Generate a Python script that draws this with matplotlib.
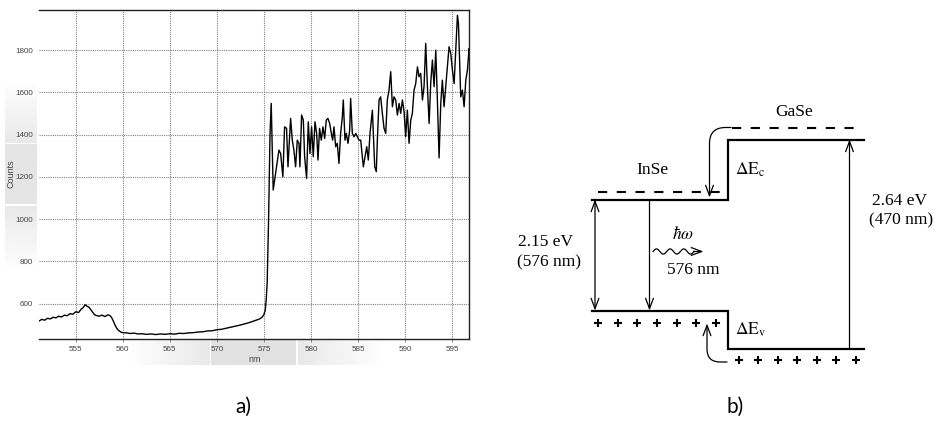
import numpy as np
import matplotlib
matplotlib.use("Agg")
import matplotlib.pyplot as plt
from matplotlib.patches import FancyArrowPatch

plt.rcParams['mathtext.fontset'] = 'stix'

# ---------------- panel a: spectrum ----------------
wavelength_nm = [
    551.1, 551.4, 551.7, 552.0, 552.3, 552.6, 552.9, 553.2, 553.5, 553.8,
    554.1, 554.4, 554.7, 555.0, 555.3, 555.6, 555.8, 556.0, 556.2, 556.4,
    556.6, 556.8, 557.0, 557.2, 557.5, 557.8, 558.1, 558.4, 558.6, 558.8,
    559.0, 559.2, 559.4, 559.6, 559.8, 560.0, 560.4, 560.8, 561.2, 561.6,
    562.0, 562.5, 563.0, 563.5, 564.0, 564.5, 565.0, 565.5, 566.0, 566.5,
    567.0, 567.5, 568.0, 568.5, 569.0, 569.5, 570.0, 570.5, 571.0, 571.5,
    572.0, 572.5, 573.0, 573.4, 573.8, 574.2, 574.5, 574.8, 575.0, 575.15,
    575.25, 575.35, 575.5, 575.65,
    575.78, 575.99, 576.24, 576.60, 576.78, 577.02, 577.20, 577.41, 577.56, 577.84,
    578.02, 578.19, 578.37, 578.55, 578.73, 578.83, 579.01, 579.19, 579.33, 579.54,
    579.72, 579.90, 580.07, 580.25, 580.43, 580.61, 580.75, 580.92, 581.10, 581.28,
    581.46, 581.63, 581.81, 581.99, 582.17, 582.31, 582.45, 582.63, 582.80, 582.98,
    583.16, 583.34, 583.44, 583.62, 583.76, 583.94, 584.12, 584.22, 584.40, 584.58,
    584.76, 584.93, 585.11, 585.29, 585.46, 585.57, 585.75, 585.93, 586.10, 586.28,
    586.53, 586.78, 586.95, 587.06, 587.24, 587.41, 587.59, 587.77, 587.95, 588.12,
    588.30, 588.48, 588.66, 588.83, 589.01, 589.19, 589.37, 589.54, 589.72, 589.90,
    590.07, 590.25, 590.43, 590.61, 590.78, 590.96, 591.14, 591.32, 591.49, 591.67,
    591.85, 592.02, 592.20, 592.38, 592.56, 592.73, 592.91, 593.09, 593.27, 593.44,
    593.62, 593.80, 593.97, 594.15, 594.33, 594.51, 594.68, 594.86, 595.04, 595.22,
    595.39, 595.57, 595.68, 595.82, 595.92, 596.10, 596.28, 596.46, 596.63, 596.81,
    596.88,
]
counts = [
    518, 526, 522, 531, 528, 536, 533, 541, 537, 546,
    543, 553, 550, 562, 558, 575, 582, 595, 588, 584,
    572, 560, 548, 544, 541, 546, 539, 547, 545, 536,
    518, 497, 481, 472, 466, 463, 462, 459, 461, 457,
    458, 455, 457, 454, 457, 455, 458, 456, 460, 459,
    462, 463, 466, 467, 471, 472, 477, 479, 484, 489,
    494, 499, 505, 510, 516, 522, 527, 536, 548, 570,
    620, 700, 1000, 1400,
    1548, 1138, 1217, 1327, 1311, 1201, 1437, 1430, 1248, 1477,
    1374, 1327, 1248, 1374, 1359, 1248, 1493, 1469, 1296, 1193,
    1461, 1311, 1437, 1296, 1461, 1406, 1280, 1430, 1374, 1437,
    1382, 1469, 1477, 1453, 1406, 1374, 1437, 1343, 1359, 1264,
    1406, 1485, 1564, 1374, 1406, 1359, 1422, 1571, 1406, 1390,
    1406, 1390, 1374, 1374, 1296, 1248, 1296, 1343, 1280, 1406,
    1516, 1248, 1225, 1374, 1564, 1579, 1501, 1430, 1406, 1564,
    1611, 1698, 1532, 1579, 1564, 1493, 1548, 1501, 1564, 1508,
    1390, 1516, 1359, 1469, 1501, 1611, 1642, 1721, 1674, 1690,
    1564, 1627, 1832, 1627, 1453, 1642, 1753, 1627, 1800, 1564,
    1290, 1548, 1658, 1532, 1627, 1721, 1816, 1784, 1705, 1642,
    1800, 1965, 1926, 1721, 1579, 1611, 1532, 1658, 1705, 1808,
    1784,
]
x_ticks = [555, 560, 565, 570, 575, 580, 585, 590, 595]
y_ticks = [600, 800, 1000, 1200, 1400, 1600, 1800]
x_range = (551.1, 596.8)
y_range = (433, 1990)

# ---------------- panel b: band diagram (schematic units = px) ----------------
step_x = 728
inse_x = [592, 728]
gase_x = [728, 864]
inse_Ec, inse_Ev = 199.5, 310.5
gase_Ec, gase_Ev = 139.5, 348.5
inse_quasi_y, inse_quasi_x = 191.5, [598, 725]
gase_quasi_y, gase_quasi_x = 127.5, [732, 861]
inse_holes_x = [598.3, 617.7, 637.3, 656.7, 676.7, 696, 716]
inse_holes_y = 322.7
gase_holes_x = [739, 758.3, 777.7, 797.3, 816.7, 836, 856]
gase_holes_y = 360
gap_arrow_x = 595
emit_arrow_x = 649.5
gase_arrow_x = 849.5

fig = plt.figure(figsize=(9.47, 4.21), dpi=100)

bg = fig.add_axes([0, 0, 1, 1])
bg.set_xlim(0, 947)
bg.set_ylim(421, 0)
bg.axis('off')


def grad_box(x0, x1, y0, y1, v0, v1, horizontal=True):
    n = 64
    vals = np.linspace(v0, v1, n)
    img = vals[None, :] if horizontal else vals[:, None]
    bg.imshow(img, cmap='gray', vmin=0, vmax=1, extent=(x0, x1, y1, y0),
              aspect='auto', origin='upper', interpolation='bilinear', zorder=0)


# decorative UI boxes round the axis labels
grad_box(5, 37, 80, 143, 1.0, 0.91, horizontal=False)
grad_box(5, 37, 144, 204, 0.895, 0.895, horizontal=False)
grad_box(5, 37, 206, 272, 0.91, 1.0, horizontal=False)
grad_box(125, 210, 340, 365, 1.0, 0.91, horizontal=True)
grad_box(211, 296, 340, 365, 0.885, 0.885, horizontal=True)
grad_box(298, 385, 340, 365, 0.91, 1.0, horizontal=True)
bg.set_xlim(0, 947)
bg.set_ylim(421, 0)

# ---- panel a axes ----
ax = fig.add_axes([39 / 947, 1 - 339 / 421, 430 / 947, 329 / 421])
ax.plot(wavelength_nm, counts, color='black', lw=1.0, zorder=3)
ax.set_xlim(*x_range)
ax.set_ylim(*y_range)
ax.set_xticks(x_ticks)
ax.set_yticks(y_ticks)
ax.grid(True, color='#808080', linestyle=(0, (1, 1)), lw=0.8)
ax.spines['left'].set_visible(False)
for s in ['top', 'right', 'bottom']:
    ax.spines[s].set_color('#222222')
    ax.spines[s].set_linewidth(1.0)
ax.tick_params(axis='x', length=2.5, width=0.6, color='#777777', pad=2.5,
               labelsize=5.8, labelcolor='#444444')
ax.tick_params(axis='y', length=0, pad=4.5, labelsize=5.8, labelcolor='#444444')
for lab in ax.get_xticklabels() + ax.get_yticklabels():
    lab.set_family(['Liberation Sans Narrow', 'Liberation Sans'])

bg.text(11, 174, 'Counts', rotation=90, ha='center', va='center',
        fontsize=6.5, color='#444444', family='Liberation Sans')
bg.text(255, 360, 'nm', ha='center', va='center',
        fontsize=6.5, color='#444444', family='Liberation Sans')

# ---- panel b ----
lw_band = 1.6
bg.plot([inse_x[0], step_x, step_x, gase_x[1]],
        [inse_Ec, inse_Ec, gase_Ec, gase_Ec], color='black', lw=lw_band,
        solid_joinstyle='miter')
bg.plot([inse_x[0], step_x, step_x, gase_x[1]],
        [inse_Ev, inse_Ev, gase_Ev, gase_Ev], color='black', lw=lw_band,
        solid_joinstyle='miter')
bg.plot(inse_quasi_x, [inse_quasi_y] * 2, color='black', lw=1.5,
        linestyle=(0, (4.4, 4.6)))
bg.plot(gase_quasi_x, [gase_quasi_y] * 2, color='black', lw=1.5,
        linestyle=(0, (4.4, 4.6)))
bg.plot(inse_holes_x, [inse_holes_y] * len(inse_holes_x), '+', color='black',
        ms=5.5, mew=1.5)
bg.plot(gase_holes_x, [gase_holes_y] * len(gase_holes_x), '+', color='black',
        ms=5.5, mew=1.5)


def arrow(p0, p1, style='->', conn='arc3,rad=0'):
    a = FancyArrowPatch(p0, p1, arrowstyle=style + ',head_length=0.75,head_width=0.28',
                        mutation_scale=10, connectionstyle=conn, color='black',
                        lw=0.9, shrinkA=0, shrinkB=0)
    bg.add_patch(a)


arrow((gap_arrow_x, inse_Ec), (gap_arrow_x, inse_Ev), style='<->')
arrow((emit_arrow_x, inse_Ec), (emit_arrow_x, inse_Ev))
arrow((gase_arrow_x, gase_Ev), (gase_arrow_x, gase_Ec))
arrow((gase_quasi_x[0] - 1, gase_quasi_y), (709.5, 197.5),
      conn='angle,angleA=0,angleB=90,rad=16')
arrow((727, 362), (707, 323.5), conn='angle,angleA=0,angleB=90,rad=13')

# wavy photon
wx = np.linspace(653, 694, 200)
wy = 251.5 - 2.6 * np.sin((wx - 653) / 41 * 3 * 2 * np.pi)
bg.plot(wx, wy, color='black', lw=0.9)
arrow((693.5, 251.5), (703.5, 251.5))

serif = 'Liberation Serif'
fs = 12.5
bg.text(794, 112, 'GaSe', ha='center', va='center', fontsize=fs, family=serif)
bg.text(652, 170, 'InSe', ha='center', va='center', fontsize=fs, family=serif)
bg.text(735, 170, r'$\Delta\mathrm{E}_{\mathrm{c}}$', ha='left', va='center', fontsize=fs)
bg.text(735, 330, r'$\Delta\mathrm{E}_{\mathrm{v}}$', ha='left', va='center', fontsize=fs)
bg.text(872, 201, '2.64 eV', ha='left', va='center', fontsize=fs, family=serif)
bg.text(869, 220, '(470 nm)', ha='left', va='center', fontsize=fs, family=serif)
bg.text(546, 242, '2.15 eV', ha='center', va='center', fontsize=fs, family=serif)
bg.text(549, 262, '(576 nm)', ha='center', va='center', fontsize=fs, family=serif)
bg.text(683, 234, r'$\hbar\omega$', ha='center', va='center', fontsize=fs)
bg.text(693, 270, '576 nm', ha='center', va='center', fontsize=fs, family=serif)

bg.text(243, 407, 'a)', ha='center', va='center', fontsize=15, family='Lato')
bg.text(735, 407, 'b)', ha='center', va='center', fontsize=15, family='Lato')

fig.savefig('out.png', dpi=100)
